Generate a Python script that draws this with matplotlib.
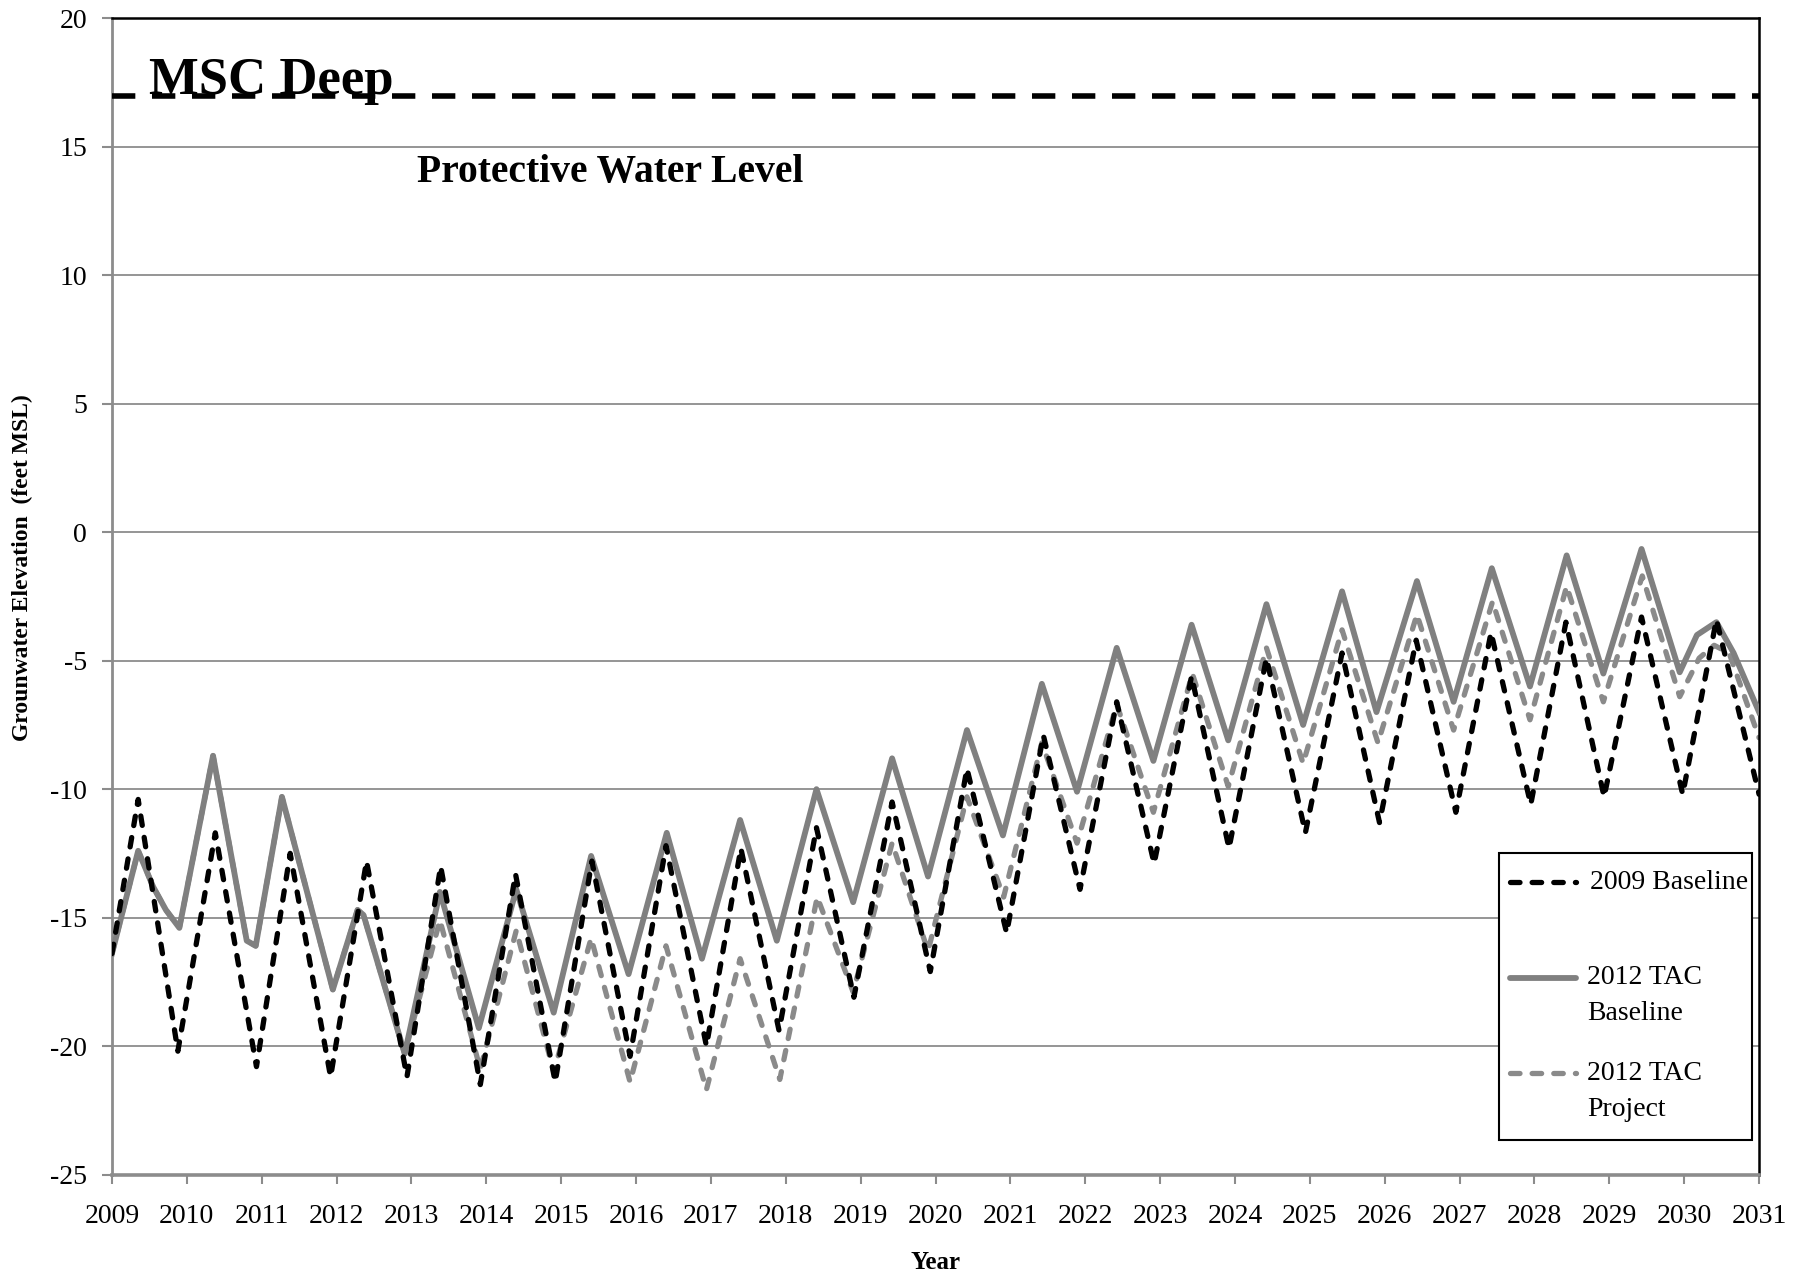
import matplotlib
matplotlib.use("Agg")
import matplotlib.pyplot as plt
from matplotlib.patches import Rectangle

plt.rcParams["font.family"] = ["Liberation Serif", "DejaVu Serif"]
plt.rcParams["axes.unicode_minus"] = False

# groundwater elevation (feet MSL), seasonal highs and lows
years_2009 = [2009.0, 2009.35, 2009.88, 2010.38, 2010.93, 2011.38, 2011.92, 2012.4, 2012.94,
              2013.39, 2013.92, 2014.39, 2014.92, 2015.41, 2015.92, 2016.4, 2016.94, 2017.4,
              2017.91, 2018.41, 2018.91, 2019.42, 2019.93, 2020.42, 2020.95, 2021.44, 2021.93,
              2022.42, 2022.92, 2023.42, 2023.92, 2024.42, 2024.94, 2025.43, 2025.93, 2026.42,
              2026.95, 2027.42, 2027.95, 2028.42, 2028.93, 2029.43, 2029.98, 2030.43, 2031.0]
baseline_2009 = [-16.4, -10.4, -20.2, -11.7, -20.8, -12.5, -21.2, -12.8, -21.2,
                 -13.0, -21.5, -13.3, -21.4, -12.8, -20.4, -12.2, -20.0, -12.3,
                 -19.4, -11.5, -18.1, -10.5, -17.1, -9.2, -15.6, -7.9, -13.9,
                 -6.6, -12.9, -5.6, -12.3, -4.9, -11.7, -4.7, -11.3, -4.2,
                 -10.9, -3.9, -10.6, -3.5, -10.3, -3.3, -10.2, -3.4, -10.2]

years_tac_base = [2009.0, 2009.35, 2009.55, 2009.72, 2009.9, 2010.35, 2010.8, 2010.92, 2011.27,
                  2011.95, 2012.28, 2012.36, 2012.91, 2013.38, 2013.9, 2014.4, 2014.9, 2015.4,
                  2015.9, 2016.41, 2016.88, 2017.39, 2017.88, 2018.41, 2018.9, 2019.42, 2019.9,
                  2020.42, 2020.9, 2021.42, 2021.89, 2022.42, 2022.91, 2023.42, 2023.91, 2024.42,
                  2024.91, 2025.43, 2025.89, 2026.43, 2026.92, 2027.43, 2027.94, 2028.43, 2028.92,
                  2029.43, 2029.94, 2030.17, 2030.43, 2030.66, 2031.0]
tac_baseline = [-16.4, -12.4, -13.8, -14.7, -15.4, -8.7, -15.9, -16.1, -10.3,
                -17.8, -14.7, -14.9, -20.3, -14.0, -19.3, -13.9, -18.7, -12.6,
                -17.2, -11.7, -16.6, -11.2, -15.9, -10.0, -14.4, -8.8, -13.4,
                -7.7, -11.8, -5.9, -10.1, -4.5, -8.9, -3.6, -8.1, -2.8,
                -7.5, -2.3, -7.0, -1.9, -6.6, -1.4, -6.0, -0.9, -5.5,
                -0.65, -5.45, -4.0, -3.5, -4.7, -7.0]

years_tac_proj = [2009.0, 2009.35, 2009.55, 2009.72, 2009.9, 2010.35, 2010.8, 2010.92, 2011.27,
                  2011.95, 2012.28, 2012.36, 2012.91, 2013.38, 2013.92, 2014.4, 2014.9, 2015.4,
                  2015.92, 2016.4, 2016.94, 2017.39, 2017.92, 2018.42, 2018.9, 2019.42, 2019.9,
                  2020.42, 2020.91, 2021.42, 2021.89, 2022.42, 2022.91, 2023.43, 2023.91, 2024.42,
                  2024.91, 2025.43, 2025.91, 2026.43, 2026.92, 2027.44, 2027.94, 2028.43, 2028.92,
                  2029.44, 2029.94, 2030.2, 2030.4, 2030.6, 2031.0]
tac_project = [-16.4, -12.4, -13.8, -14.7, -15.4, -8.7, -15.9, -16.1, -10.3,
               -17.8, -14.7, -14.9, -20.3, -15.1, -20.9, -15.5, -21.0, -15.8,
               -21.4, -16.1, -21.7, -16.6, -21.3, -14.2, -17.9, -12.1, -16.3,
               -10.3, -14.2, -8.2, -12.1, -6.7, -10.9, -5.5, -9.9, -4.5,
               -9.0, -3.8, -8.2, -3.2, -7.7, -2.7, -7.3, -2.1, -6.6,
               -1.7, -6.4, -4.9, -4.4, -4.7, -8.0]

protective_level = 17
labels = [["2009 Baseline"], ["2012 TAC", "Baseline"], ["2012 TAC", "Project"]]

GRID = "#8c8c8c"
BASE_GRAY = "#808080"
PROJ_GRAY = "#8a8a8a"
dash_series = (1.8, 2.3)

fig = plt.figure(figsize=(18.09, 12.74), dpi=100)
ax = fig.add_axes([0.0619, 0.0781, 0.9105, 0.9074])

ax.set_xlim(2009, 2031)
ax.set_ylim(-25, 20)
ax.set_xticks(range(2009, 2032))
ax.set_yticks(range(-25, 21, 5))
ax.yaxis.grid(True, color=GRID, lw=1.3)
ax.set_axisbelow(True)

for side in ("left", "bottom"):
    ax.spines[side].set_color(GRID)
ax.spines["left"].set_linewidth(2.0)
ax.spines["bottom"].set_linewidth(2.6)
for side in ("top", "right"):
    ax.spines[side].set_color("black")
    ax.spines[side].set_linewidth(1.8)

ax.tick_params(axis="x", length=6.5, width=1.5, color=GRID, pad=15, labelsize=20)
ax.tick_params(axis="y", length=7, width=1.5, color=GRID, pad=11, labelsize=20)

ax.plot(years_tac_proj, tac_project, color=PROJ_GRAY, lw=3.8,
        dashes=dash_series, dash_capstyle="round", zorder=2)
ax.plot(years_tac_base, tac_baseline, color=BASE_GRAY, lw=4.2,
        solid_joinstyle="round", zorder=3)
ax.plot(years_2009, baseline_2009, color="black", lw=3.8,
        dashes=dash_series, dash_capstyle="round", zorder=4)

ax.axhline(protective_level, color="black", lw=4, dashes=(4.2, 3.0), zorder=5)
ax.text(2009.5, protective_level + 0.05, "MSC Deep", fontsize=38, fontweight="bold",
        va="baseline", ha="left", zorder=4)
ax.text(2013.08, 13.65, "Protective Water Level", fontsize=28.5, fontweight="bold",
        va="baseline", ha="left")

ax.set_xlabel("Year", fontsize=18, fontweight="bold")
ax.xaxis.set_label_coords(0.5, -0.066)
ax.set_ylabel("Grounwater Elevation  (feet MSL)", fontsize=17, fontweight="bold")
ax.yaxis.set_label_coords(-0.048, 0.525)

# legend box, with the handle next to the first line of each label
ax.add_patch(Rectangle((0.842, 0.030), 0.1537, 0.248, transform=ax.transAxes,
                       facecolor="white", edgecolor="black", lw=1.5, zorder=6))
rows = [[0.2530], [0.1700, 0.1397], [0.0878, 0.0558]]
styles = [dict(color="black", lw=3.8, dashes=dash_series, dash_capstyle="round"),
          dict(color=BASE_GRAY, lw=4.2, solid_capstyle="round"),
          dict(color=PROJ_GRAY, lw=3.8, dashes=dash_series, dash_capstyle="round")]
for ys, lines, style in zip(rows, labels, styles):
    ax.plot([0.849, 0.889], [ys[0], ys[0]], transform=ax.transAxes, clip_on=False,
            zorder=7, **style)
    x_text = 0.8975 if len(lines) == 1 else 0.8955
    for y, line in zip(ys, lines):
        ax.text(x_text, y, line, transform=ax.transAxes, fontsize=20,
                va="center", ha="left", zorder=7)

fig.savefig("out.png", dpi=100)
